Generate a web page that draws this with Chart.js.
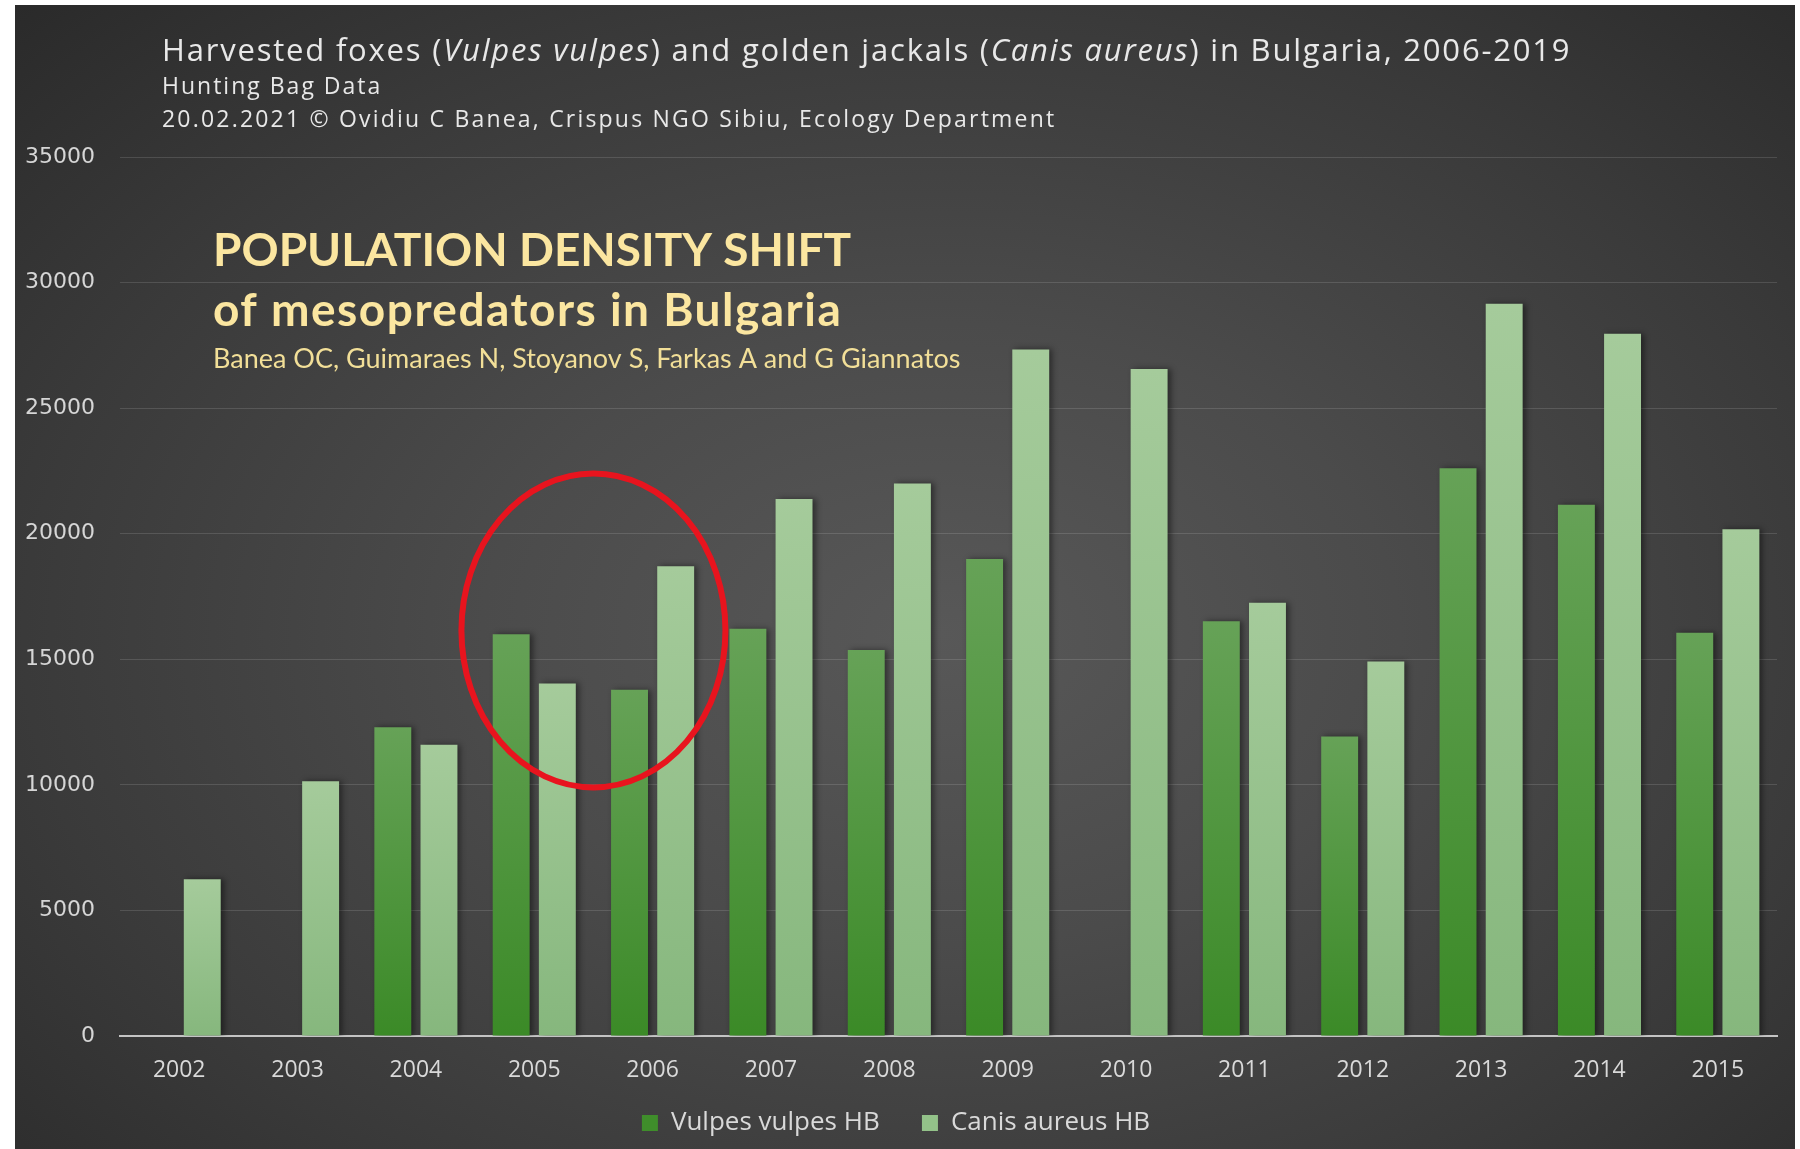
<!DOCTYPE html>
<html>
<head>
<meta charset="utf-8">
<script src="https://cdn.jsdelivr.net/npm/chart.js@4"></script>
<style>
  body { margin: 0; background: #fff; }
  #wrap {
    position: absolute; left: 15px; top: 5px; width: 1780px; height: 1144px;
    background: radial-gradient(ellipse at 52% 55%, #585858 0%, #4b4b4b 35%, #3a3a3a 70%, #2a2a2a 100%);
  }
</style>
</head>
<body>
<div id="wrap"><canvas id="chart" width="1780" height="1144"></canvas></div>
<script>
const years = ["2002", "2003", "2004", "2005", "2006", "2007", "2008", "2009", "2010", "2011", "2012", "2013", "2014", "2015"];
const vulpesHB = [null, null, 12290, 16000, 13790, 16220, 15370, 18990, null, 16510, 11930, 22610, 21150, 16060];
const canisHB = [6240, 10140, 11600, 14040, 18700, 21380, 22000, 27340, 26560, 17250, 14910, 29160, 27960, 20180];
const yTicks = [0, 5000, 10000, 15000, 20000, 25000, 30000, 35000];

// per-bar vertical gradient, lighter at the top
function barGradient(top, bottom) {
  return function (context) {
    const chart = context.chart;
    const v = context.raw;
    if (!chart.chartArea || v == null || context.type !== "data") return bottom;
    const y = chart.scales.y;
    const g = chart.ctx.createLinearGradient(0, y.getPixelForValue(v), 0, y.getPixelForValue(0));
    g.addColorStop(0, top);
    g.addColorStop(1, bottom);
    return g;
  };
}

// title lines and the yellow note, drawn straight on the canvas
const headerPlugin = {
  id: "header",
  afterDraw(chart) {
    const ctx = chart.ctx;
    ctx.save();
    ctx.textBaseline = "alphabetic";
    ctx.fillStyle = "#e8e8e8";
    ctx.letterSpacing = "1.8px";
    const parts = [
      ["Harvested foxes (", false],
      ["Vulpes vulpes", true],
      [") and golden jackals (", false],
      ["Canis aureus", true],
      [") in Bulgaria, 2006-2019", false],
    ];
    let x = 147;
    parts.forEach(([t, it]) => {
      ctx.font = (it ? "italic " : "") + "31px 'Open Sans'";
      ctx.fillText(t, x, 56);
      x += ctx.measureText(t).width;
    });
    ctx.letterSpacing = "2px";
    ctx.font = "23px 'Open Sans'";
    ctx.fillText("Hunting Bag Data", 147, 89);
    ctx.letterSpacing = "2.2px";
    ctx.fillText("20.02.2021 \u00a9 Ovidiu C Banea, Crispus NGO Sibiu, Ecology Department", 147, 122);

    ctx.fillStyle = "#fbe6a0";
    ctx.letterSpacing = "0px";
    ctx.font = "bold 46px Lato";
    ctx.fillText("POPULATION DENSITY SHIFT", 198, 261);
    ctx.letterSpacing = "1.5px";
    ctx.fillText("of mesopredators in Bulgaria", 198, 321);
    ctx.letterSpacing = "0px";
    ctx.font = "27px Lato";
    ctx.fillStyle = "#f2df98";
    ctx.fillText("Banea OC, Guimaraes N, Stoyanov S, Farkas A and G Giannatos", 198, 363);
    ctx.restore();
  },
};

// soft shadow under the bars
const shadowPlugin = {
  id: "barShadow",
  beforeDatasetsDraw(chart) {
    const ctx = chart.ctx;
    ctx.save();
    ctx.shadowColor = "rgba(0,0,0,0.45)";
    ctx.shadowBlur = 6;
    ctx.shadowOffsetX = 3;
    ctx.shadowOffsetY = 0;
  },
  afterDatasetsDraw(chart) {
    chart.ctx.restore();
  },
};

// red ellipse around 2005-2006
const circlePlugin = {
  id: "circle",
  afterDatasetsDraw(chart) {
    const ctx = chart.ctx;
    const x = chart.scales.x, y = chart.scales.y;
    const cx = (x.getPixelForValue(3) + x.getPixelForValue(4)) / 2;
    const cy = y.getPixelForValue(16150);
    ctx.save();
    ctx.strokeStyle = "#e8141e";
    ctx.lineWidth = 6;
    ctx.beginPath();
    ctx.ellipse(cx, cy, 132, 157, 0, 0, Math.PI * 2);
    ctx.stroke();
    ctx.restore();
  },
};

new Chart(document.getElementById("chart"), {
  type: "bar",
  data: {
    labels: years,
    datasets: [
      {
        label: "Vulpes vulpes HB",
        data: vulpesHB,
        backgroundColor: barGradient("#66a257", "#3b8a27"),
        borderWidth: 0,
        categoryPercentage: 0.78,
        barPercentage: 0.8,
      },
      {
        label: "Canis aureus HB",
        data: canisHB,
        backgroundColor: barGradient("#a5cb9b", "#86b77d"),
        borderWidth: 0,
        categoryPercentage: 0.78,
        barPercentage: 0.8,
      },
    ],
  },
  options: {
    responsive: false,
    animation: false,
    layout: { padding: { top: 152, right: 18, bottom: 3, left: 0 } },
    scales: {
      x: {
        grid: { display: false, drawTicks: false },
        border: { color: "#c4c4c4", width: 2 },
        ticks: { color: "#d9d9d9", font: { family: "'Open Sans'", size: 23 }, padding: 21 },
        afterFit: (s) => { s.height = 52; },
      },
      y: {
        min: 0,
        max: 35000,
        afterBuildTicks: (s) => { s.ticks = yTicks.map((v) => ({ value: v })); },
        grid: { color: "rgba(255,255,255,0.13)", lineWidth: 1, drawTicks: false },
        border: { display: false },
        ticks: {
          color: "#d6d6d6",
          font: { family: "'DejaVu Sans'", size: 22 },
          padding: 25,
          callback: (v) => String(v),
        },
        afterFit: (s) => { s.width = 105; },
      },
    },
    plugins: {
      legend: {
        position: "bottom",
        labels: {
          color: "#d9d9d9",
          font: { family: "'Open Sans'", size: 26 },
          boxWidth: 16,
          boxHeight: 16,
          padding: 22,
          generateLabels: () => [
            { text: "Vulpes vulpes HB   ", fillStyle: "#3f8d2b", strokeStyle: "#3f8d2b", lineWidth: 0, datasetIndex: 0, fontColor: "#d9d9d9" },
            { text: "Canis aureus HB", fillStyle: "#93c289", strokeStyle: "#93c289", lineWidth: 0, datasetIndex: 1, fontColor: "#d9d9d9" },
          ],
        },
      },
      tooltip: { enabled: false },
    },
  },
  plugins: [headerPlugin, shadowPlugin, circlePlugin],
});
</script>
</body>
</html>
